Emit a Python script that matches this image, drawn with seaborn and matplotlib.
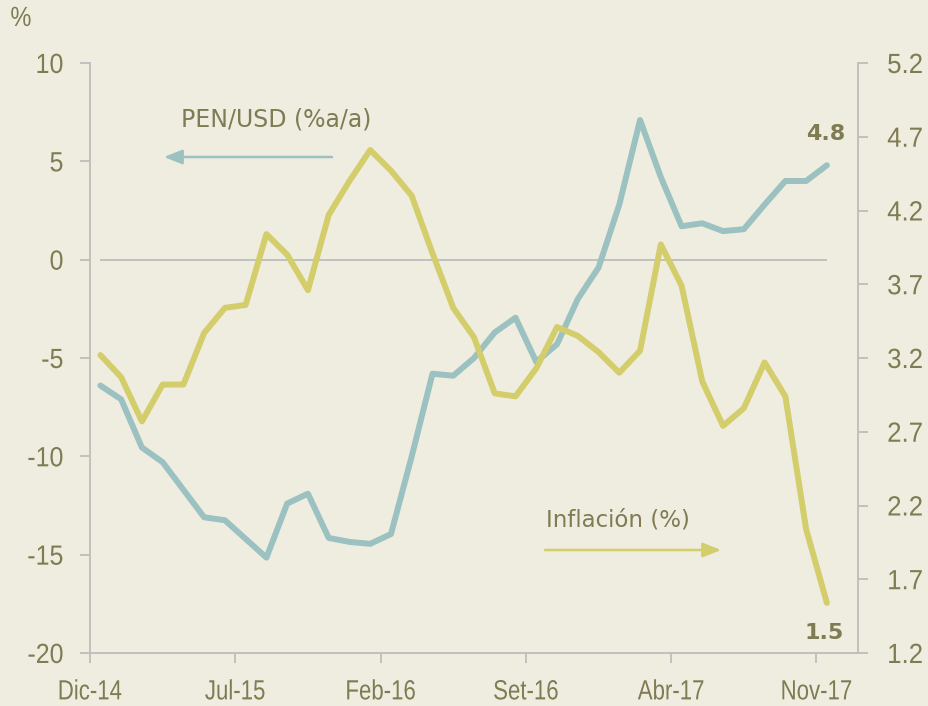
import numpy as np
import pandas as pd
import matplotlib
matplotlib.use("Agg")
import matplotlib.pyplot as plt
import matplotlib.patheffects as pe
from matplotlib.transforms import Affine2D
import seaborn as sns

# ---------------- data ----------------
months = ["Dic-14", "Ene-15", "Feb-15", "Mar-15", "Abr-15", "May-15", "Jun-15",
          "Jul-15", "Ago-15", "Set-15", "Oct-15", "Nov-15", "Dic-15", "Ene-16",
          "Feb-16", "Mar-16", "Abr-16", "May-16", "Jun-16", "Jul-16", "Ago-16",
          "Set-16", "Oct-16", "Nov-16", "Dic-16", "Ene-17", "Feb-17", "Mar-17",
          "Abr-17", "May-17", "Jun-17", "Jul-17", "Ago-17", "Set-17", "Oct-17",
          "Nov-17"]
pen_usd = [-6.4, -7.1, -9.55, -10.3, -11.7, -13.1, -13.25, -14.2, -15.15, -12.4,
           -11.9, -14.15, -14.35, -14.45, -13.95, -10.0, -5.8, -5.9, -5.0, -3.7,
           -2.95, -5.2, -4.3, -2.0, -0.4, 2.8, 7.1, 4.2, 1.7, 1.85, 1.45, 1.55,
           2.8, 4.0, 4.0, 4.8]
inflacion = [3.22, 3.07, 2.77, 3.02, 3.02, 3.37, 3.54, 3.56, 4.04, 3.90, 3.66,
             4.17, 4.40, 4.61, 4.47, 4.30, 3.91, 3.54, 3.34, 2.96, 2.94, 3.13,
             3.41, 3.35, 3.24, 3.10, 3.25, 3.97, 3.69, 3.04, 2.74, 2.86, 3.17,
             2.94, 2.04, 1.54]
tick_labels = ["Dic-14", "Jul-15", "Feb-16", "Set-16", "Abr-17", "Nov-17"]
left_ticks = [-20, -15, -10, -5, 0, 5, 10]
right_ticks = [1.2, 1.7, 2.2, 2.7, 3.2, 3.7, 4.2, 4.7, 5.2]

# ---------------- style ----------------
BG = "#EFEDE0"
BLUE = "#9CC1C1"
YELLOW = "#D4CD6B"
TEXT = "#7F7B52"
AXC = "#BDBDBD"

sns.set_style("white", {"axes.facecolor": BG, "figure.facecolor": BG})
TICKFONT = ["Liberation Sans", "DejaVu Sans"]
ANNFONT = ["DejaVu Sans"]
plt.rcParams["font.family"] = TICKFONT


class Condense(pe.AbstractPathEffect):
    """Draw text narrower (horizontal squeeze) keeping its alignment."""

    def __init__(self, sx=0.8, align="center"):
        super().__init__()
        self.sx = sx
        self.frac = {"left": 0.0, "center": 0.5, "right": 1.0}[align]

    def draw_path(self, renderer, gc, tpath, affine, rgbFace=None):
        ext = tpath.get_extents()
        w = ext.x1
        shift = self.frac * (1 - self.sx) * w
        aff = Affine2D().scale(self.sx, 1).translate(shift, 0) + affine
        renderer.draw_path(gc, tpath, aff, rgbFace)


df = pd.DataFrame({"mes": months, "pen": pen_usd, "inf": inflacion})
df["pos"] = np.arange(len(df)) + 0.5
tick_pos = [months.index(m) for m in tick_labels]

W, H = 929, 706
fig = plt.figure(figsize=(W / 100, H / 100), dpi=100)
fig.patch.set_facecolor(BG)
ax = fig.add_axes([90 / W, (H - 653) / H, (858 - 90) / W, (653 - 63) / H])
ax.set_facecolor(BG)
ax2 = ax.twinx()
ax2.patch.set_visible(False)

# zero line
ax.hlines(0, df["pos"].iloc[0], df["pos"].iloc[-1], color=AXC, lw=1.3, zorder=1)

sns.lineplot(data=df, x="pos", y="pen", ax=ax, color=BLUE, lw=4.3,
             solid_capstyle="round", solid_joinstyle="round", zorder=3)
sns.lineplot(data=df, x="pos", y="inf", ax=ax2, color=YELLOW, lw=4.3,
             solid_capstyle="round", solid_joinstyle="round", zorder=3)

ax.set_xlim(0, 37)
ax.set_ylim(-20, 10)
ax2.set_ylim(1.2, 5.2)
ax.set_xticks(tick_pos)
ax.set_xticklabels(tick_labels)
ax.set_yticks(left_ticks)
ax.set_yticklabels([str(v) for v in left_ticks])
ax2.set_yticks(right_ticks)
ax2.set_yticklabels([f"{v:.1f}" for v in right_ticks])
ax.set_xlabel("")
ax.set_ylabel("")
ax2.set_ylabel("")

for a in (ax, ax2):
    for s in a.spines.values():
        s.set_visible(False)
ax.spines["left"].set_visible(True)
ax.spines["bottom"].set_visible(True)
ax2.spines["right"].set_visible(True)
for s in (ax.spines["left"], ax.spines["bottom"], ax2.spines["right"]):
    s.set_color(AXC)
    s.set_linewidth(1.3)

ax.tick_params(axis="y", left=True, direction="out", length=7, width=1.3,
               color=AXC, labelcolor=TEXT, labelsize=20, pad=12)
ax.tick_params(axis="x", bottom=True, direction="out", length=7, width=1.3,
               color=AXC, labelcolor=TEXT, labelsize=20, pad=12)
ax2.tick_params(axis="y", right=True, direction="out", length=7, width=1.3,
                color=AXC, labelcolor=TEXT, labelsize=20, pad=14)

for t in ax.get_xticklabels():
    t.set_path_effects([Condense(0.8, "center")])
for t in ax.get_yticklabels():
    t.set_path_effects([Condense(0.9, "right")])
for t in ax2.get_yticklabels():
    t.set_path_effects([Condense(0.93, "left")])


def fx(x):
    return x / W


def fy(y):
    return 1 - y / H


pct = fig.text(fx(21), fy(19), "%", color=TEXT, fontsize=20, ha="center",
               va="center", family=TICKFONT)
pct.set_path_effects([Condense(0.85, "center")])
fig.text(fx(276), fy(120), "PEN/USD (%a/a)", color=TEXT, fontsize=17,
         ha="center", va="center", family=ANNFONT)
fig.text(fx(618), fy(520), "Inflación (%)", color=TEXT, fontsize=16.5,
         ha="center", va="center", family=ANNFONT)
fig.text(fx(826), fy(134), "4.8", color=TEXT, fontsize=16, fontweight="bold",
         ha="center", va="center", family=ANNFONT)
fig.text(fx(824), fy(633), "1.5", color=TEXT, fontsize=16, fontweight="bold",
         ha="center", va="center", family=ANNFONT)

arrow_kw = dict(arrowstyle="-|>,head_length=0.55,head_width=0.22", lw=1.8,
                shrinkA=0, shrinkB=0, mutation_scale=20)
fig.add_artist(matplotlib.patches.FancyArrowPatch(
    (fx(332), fy(157)), (fx(164), fy(157)), transform=fig.transFigure,
    color=BLUE, **arrow_kw))
fig.add_artist(matplotlib.patches.FancyArrowPatch(
    (fx(545), fy(550)), (fx(721), fy(550)), transform=fig.transFigure,
    color=YELLOW, **arrow_kw))

fig.savefig("out.png", dpi=100, facecolor=BG)
